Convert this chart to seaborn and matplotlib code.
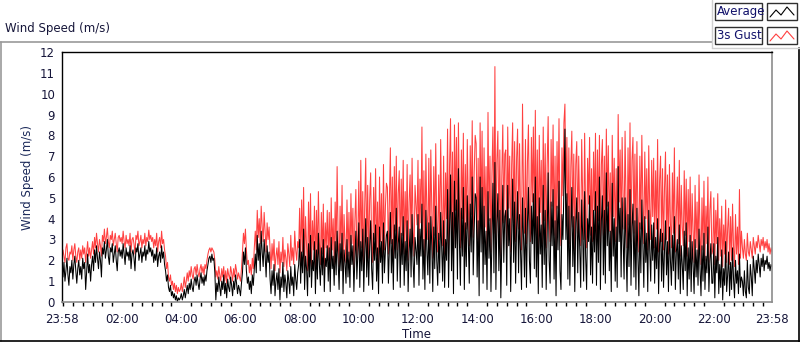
import numpy as np
import pandas as pd
import matplotlib
matplotlib.use("Agg")
import matplotlib.pyplot as plt
import seaborn as sns
from matplotlib.lines import Line2D
from matplotlib.patches import Rectangle

# ---- data: 2-minute samples from 23:58 to 23:58 next day (one row = one hour) ----
avg = [
    1.6,1.2,1.9,1.0,1.5,2.1,1.3,0.8,1.7,1.4,2.0,1.1,1.8,2.2,1.5,0.9,1.6,2.0,1.3,1.7,1.1,2.1,1.6,1.9,0.6,1.5,2.3,1.4,1.8,1.0,
    1.8,2.2,1.5,2.5,1.9,2.7,2.1,1.6,2.4,2.0,1.2,2.6,2.3,2.9,2.1,2.5,3.0,2.2,1.8,2.6,2.4,2.8,1.9,2.3,2.7,2.0,1.5,2.4,2.6,2.2,
    2.5,2.1,2.8,2.3,1.8,2.6,2.2,2.4,2.0,2.7,1.6,2.3,2.5,2.1,1.5,2.6,2.4,2.8,2.0,2.3,2.6,1.9,2.4,2.2,2.7,2.0,2.5,2.3,2.9,2.4,
    2.6,2.2,2.5,1.9,2.3,2.0,2.6,1.7,2.2,2.4,1.9,2.7,2.1,2.4,1.8,1.5,1.0,1.3,0.7,0.5,0.8,0.3,0.5,0.2,0.4,0.1,0.3,0.0,0.2,0.1,
    0.2,0.4,0.1,0.3,0.6,0.2,0.5,0.8,0.4,0.9,0.6,1.1,0.7,0.5,1.0,1.2,0.8,1.3,0.9,0.6,1.1,1.4,0.9,1.2,0.8,1.3,1.0,1.5,1.8,2.1,
    2.2,1.9,2.3,2.0,2.1,1.4,0.1,0.9,0.5,1.2,0.7,0.3,1.0,0.6,1.3,0.4,0.9,0.2,1.1,0.7,0.5,1.2,0.8,0.3,1.0,0.6,1.3,0.9,0.4,0.8,
    0.6,0.3,0.9,1.4,2.4,1.8,2.6,1.5,0.9,1.2,0.6,1.0,0.4,1.3,0.8,1.6,2.3,1.4,3.2,2.0,2.8,1.5,3.4,2.4,1.7,3.0,2.2,1.2,2.7,1.9,
    2.4,1.1,0.4,1.5,0.8,1.8,0.3,1.0,1.4,0.6,1.6,0.1,1.2,0.7,1.9,0.5,1.3,0.9,0.2,1.5,1.0,0.4,1.7,0.8,1.2,0.3,1.8,1.1,0.6,1.4,
    1.8,3.0,0.9,2.4,1.4,3.5,0.6,2.2,1.6,0.3,2.8,1.2,3.2,0.7,2.0,1.5,2.9,0.4,2.5,1.1,3.3,1.8,0.8,2.6,1.3,3.0,0.5,2.1,1.7,2.7,
    1.0,2.6,0.5,3.1,1.6,2.2,0.8,2.9,1.3,3.4,2.0,0.6,2.8,1.5,3.3,0.4,2.5,1.9,0.9,3.0,1.2,2.4,0.7,3.2,1.8,2.7,0.5,2.1,3.4,1.1,
    2.3,3.8,0.7,2.9,1.5,3.5,0.5,2.4,4.0,1.2,3.1,0.8,2.7,3.9,1.6,0.6,3.3,2.0,3.7,1.0,2.6,0.4,3.6,1.9,2.9,0.9,3.8,1.4,2.5,3.2,
    3.4,0.9,2.6,4.3,1.4,3.0,0.6,3.7,2.1,4.5,1.0,2.8,3.6,0.7,3.3,1.8,4.1,0.8,2.9,1.5,3.9,0.5,2.4,3.5,1.2,4.2,2.0,0.7,3.1,2.5,
    1.8,4.2,0.8,3.5,2.2,4.7,1.1,3.0,0.6,4.4,2.5,1.3,3.8,0.9,4.1,2.7,0.5,3.6,1.6,4.6,2.0,0.8,3.3,1.4,4.3,2.6,1.0,3.9,0.7,3.0,
    2.0,5.4,0.7,3.6,6.1,1.5,4.3,0.4,5.8,2.6,4.9,1.1,6.4,2.9,0.8,4.5,2.2,5.5,0.6,3.8,1.7,5.1,3.0,0.9,4.7,2.4,6.0,1.3,3.5,5.2,
    5.0,1.2,3.9,0.3,6.0,2.4,5.5,0.9,4.6,1.8,3.4,0.6,5.3,2.1,4.0,0.5,3.2,5.7,1.4,6.7,0.6,3.8,5.2,1.5,4.4,0.2,3.0,5.6,1.9,4.1,
    4.4,0.8,5.6,2.7,4.0,0.5,3.3,5.9,1.9,4.8,0.9,3.6,5.3,1.4,4.2,2.3,0.6,5.0,3.1,1.2,4.5,0.7,3.8,5.5,2.0,0.9,4.6,2.8,5.2,1.6,
    6.0,1.2,4.1,0.4,5.0,2.3,3.7,0.7,5.6,1.8,4.4,0.6,3.2,6.2,2.0,0.9,4.8,2.7,5.4,1.1,3.9,0.3,4.6,2.5,5.8,1.5,0.6,4.2,3.0,5.5,
    8.3,3.0,5.2,1.1,4.6,0.8,3.5,5.5,1.7,4.1,0.5,3.8,5.0,1.4,4.3,2.6,0.7,4.9,3.2,1.0,5.3,2.2,0.6,4.0,2.9,5.1,1.3,3.6,0.9,4.4,
    2.4,5.3,0.8,4.6,1.9,6.0,0.6,3.9,5.1,1.3,4.4,0.9,6.2,2.7,4.8,1.5,3.4,0.5,5.7,2.2,4.0,1.0,3.6,0.7,6.5,2.9,4.5,1.2,5.0,3.1,
    1.1,5.0,2.6,0.5,4.2,1.7,5.4,0.8,3.6,4.7,1.2,3.9,0.6,4.5,2.2,0.3,3.8,1.4,4.9,2.8,0.7,4.1,1.9,3.3,0.5,4.4,2.5,1.0,3.7,2.0,
    3.8,0.9,3.1,1.6,4.0,0.4,2.8,3.5,1.0,3.3,0.7,2.5,3.9,1.3,2.9,0.5,3.6,2.0,0.8,3.2,1.5,4.1,0.6,2.4,3.0,1.1,3.7,0.4,2.7,1.8,
    0.6,3.4,1.5,3.8,0.3,2.6,1.1,3.2,0.5,2.9,1.8,0.4,3.0,1.2,2.5,0.8,3.5,1.6,0.3,2.7,1.0,3.3,0.6,2.2,1.4,3.6,0.5,2.0,2.8,0.9,
    0.9,2.8,0.2,2.2,1.4,3.1,0.4,1.8,0.7,2.5,0.1,1.6,0.8,2.9,0.5,1.3,2.4,0.3,1.9,0.6,2.6,1.1,0.2,2.0,0.9,1.5,0.4,2.3,0.7,1.2,
    1.0,0.3,1.5,0.5,0.2,2.0,0.7,0.4,1.8,1.2,0.3,2.2,1.6,0.9,2.0,1.4,2.3,1.8,1.2,2.1,1.7,2.3,1.5,2.0,1.8,2.2,1.6,1.9,1.5,1.8,
    1.7,
]
gust = [
    2.0,2.5,2.2,1.9,2.6,2.8,2.1,2.0,2.4,2.3,2.7,2.0,2.5,2.8,2.2,1.9,2.4,2.6,2.0,2.5,2.1,2.7,2.3,2.6,1.9,2.4,2.9,2.2,2.6,2.1,
    2.5,2.9,2.3,3.1,2.6,3.3,2.8,2.4,3.0,2.7,2.2,3.2,2.9,3.5,2.8,3.1,3.55,2.9,2.6,3.2,3.0,3.4,2.7,3.0,3.3,2.8,2.4,3.1,3.2,2.9,
    3.1,2.8,3.4,2.9,2.6,3.2,2.8,3.0,2.7,3.3,2.4,3.0,3.1,2.8,2.3,3.2,3.0,3.4,2.7,2.9,3.2,2.6,3.0,2.8,3.3,2.7,3.1,2.9,3.45,3.0,
    3.2,2.9,3.1,2.6,3.0,2.7,3.3,2.4,2.9,3.1,2.6,3.4,2.8,3.0,2.5,2.2,1.6,1.9,1.2,1.0,1.3,0.8,1.0,0.6,0.9,0.5,0.8,0.4,0.7,0.5,
    0.6,0.9,0.5,0.8,1.2,0.7,1.0,1.4,1.0,1.5,1.2,1.7,1.3,1.1,1.6,1.7,1.3,1.8,1.4,1.2,1.6,1.8,1.4,1.7,1.3,1.8,1.6,2.0,2.3,2.5,
    2.6,2.4,2.6,2.5,2.4,2.0,1.2,1.5,1.1,1.7,1.3,1.0,1.6,1.2,1.7,1.0,1.5,0.9,1.6,1.3,1.1,1.7,1.4,1.0,1.6,1.2,1.8,1.5,1.1,1.4,
    1.2,1.0,1.6,2.4,3.3,2.8,3.5,2.5,1.8,2.0,1.4,1.8,1.3,2.1,1.6,2.6,3.4,2.5,4.4,3.1,4.0,2.8,4.6,3.6,2.9,4.3,3.3,2.4,3.8,3.0,
    3.6,2.5,1.6,2.8,2.0,3.0,1.5,2.2,2.6,1.8,2.9,1.4,2.4,1.9,3.1,1.7,2.5,2.1,1.5,2.8,2.3,1.7,3.2,2.0,2.6,1.8,3.4,2.5,2.0,2.9,
    2.6,4.5,1.8,4.9,2.4,5.5,1.6,4.1,2.7,1.5,4.8,2.2,5.2,1.7,3.9,2.5,4.6,1.5,4.4,2.1,5.3,2.9,1.8,4.3,2.3,4.7,1.6,3.8,2.6,4.4,
    2.0,4.3,1.6,5.0,2.5,4.0,1.8,4.8,2.4,6.5,3.0,1.7,4.6,2.5,5.6,1.5,4.2,2.8,1.9,4.9,2.2,4.3,1.7,5.2,2.8,4.5,1.6,3.9,5.4,2.1,
    3.2,5.8,2.0,6.8,2.6,5.3,1.8,4.7,6.9,2.4,5.6,2.1,4.9,6.2,2.7,1.9,5.5,3.0,6.4,2.2,4.8,1.7,6.0,2.9,5.2,2.0,6.6,2.5,4.6,5.7,
    5.5,2.3,5.0,7.4,2.8,6.0,2.1,6.5,3.4,7.0,2.5,5.2,6.3,2.2,5.9,3.2,6.8,2.3,5.3,2.9,6.6,2.0,4.8,6.1,2.6,6.9,3.5,2.2,5.6,4.7,
    3.7,6.8,2.4,5.9,3.8,8.4,2.6,6.3,2.2,7.1,4.2,3.0,6.9,2.5,7.3,4.4,2.1,6.5,3.2,7.6,3.9,2.4,6.1,3.0,7.8,4.5,2.7,7.0,2.3,6.2,
    4.0,8.3,2.3,6.5,8.8,3.2,7.2,2.1,8.5,4.4,7.9,2.8,8.6,4.9,2.6,7.3,4.0,8.1,2.4,6.6,3.5,7.8,4.8,2.7,7.5,4.2,8.7,3.1,6.2,8.0,
    7.6,3.0,6.9,2.3,8.6,4.1,8.2,2.8,7.4,3.6,6.5,2.5,9.1,3.9,7.0,2.4,6.2,8.4,3.3,11.3,2.6,6.8,8.2,3.3,7.3,2.2,6.0,8.5,3.8,7.1,
    7.3,2.6,8.4,4.5,7.0,2.4,6.6,8.6,3.8,7.7,2.9,6.9,8.3,3.5,7.6,4.3,2.5,9.5,5.2,3.3,7.8,2.8,6.7,8.5,4.0,2.9,7.9,4.8,8.4,3.6,
    9.2,3.2,7.3,2.5,8.0,4.3,6.8,2.8,8.4,3.9,7.6,2.6,6.5,8.9,4.0,2.9,7.8,4.6,8.5,3.2,7.0,2.4,7.7,4.5,8.8,3.6,2.7,7.4,5.1,8.6,
    9.5,5.0,7.9,3.2,7.4,2.8,6.5,8.2,3.6,7.1,2.5,6.6,7.7,3.3,7.0,4.4,2.7,7.8,5.0,3.0,8.1,4.2,2.6,6.9,4.7,7.9,3.2,6.4,2.9,7.2,
    4.4,8.1,2.7,7.3,3.9,8.0,2.5,6.6,7.8,3.2,7.0,3.0,8.3,4.6,7.5,3.4,6.2,2.4,8.0,4.1,6.9,2.9,6.4,2.6,9.0,4.8,7.3,3.1,7.9,5.0,
    3.5,8.2,4.6,2.6,7.4,3.7,8.6,2.9,6.8,7.9,3.3,7.1,2.7,7.7,4.3,2.4,7.0,3.5,8.0,4.9,2.8,7.2,4.0,6.4,2.5,7.5,4.5,3.0,6.8,4.1,
    6.9,2.6,6.3,3.5,7.8,2.4,5.8,7.0,2.9,6.4,2.5,5.5,7.2,3.0,6.1,2.3,6.6,3.8,2.6,6.2,3.3,7.4,2.4,4.3,6.0,2.8,6.8,2.2,5.6,3.6,
    2.7,6.3,3.2,5.9,2.2,5.4,2.9,6.0,2.0,5.2,3.4,1.9,5.6,2.6,4.8,2.1,6.1,3.3,1.8,5.0,2.5,5.8,2.0,4.6,2.8,6.0,1.9,4.4,5.3,2.3,
    2.5,5.0,1.8,4.4,2.8,5.2,2.0,4.0,2.2,4.6,1.7,3.7,2.3,4.9,1.9,3.5,4.5,1.8,4.1,2.0,4.7,2.6,1.7,4.2,2.3,3.6,1.8,5.4,2.1,3.4,
    2.6,2.1,3.0,2.3,2.0,3.3,2.4,2.2,2.9,2.5,2.1,3.1,2.7,2.3,2.9,2.6,3.2,2.8,2.4,3.0,2.7,3.1,2.5,2.9,2.6,3.0,2.4,2.8,2.3,2.6,
    2.4,
]
step_minutes = 2
tick_minutes = [0, 122, 242, 362, 482, 602, 722, 842, 962, 1082, 1202, 1322, 1440]
tick_labels = ["23:58", "02:00", "04:00", "06:00", "08:00", "10:00", "12:00",
               "14:00", "16:00", "18:00", "20:00", "22:00", "23:58"]
y_ticks = list(range(0, 13))

df_avg = pd.DataFrame({"t": np.arange(len(avg)) * step_minutes, "v": avg})
df_gust = pd.DataFrame({"t": np.arange(len(gust)) * step_minutes, "v": gust})

sns.set_style("white")
plt.rcParams["font.family"] = ["DejaVu Sans"]

W, H = 800, 342
fig = plt.figure(figsize=(W / 100, H / 100), dpi=100)
fig.patch.set_facecolor("white")

def fx(px):
    return px / W

def fy(py):
    return 1 - py / H

ax = fig.add_axes([fx(62), fy(302), fx(772) - fx(62), fy(52) - fy(302)])
sns.lineplot(data=df_gust, x="t", y="v", ax=ax, color="#ff4040", lw=0.75,
             estimator=None, sort=False)
sns.lineplot(data=df_avg, x="t", y="v", ax=ax, color="black", lw=0.75,
             estimator=None, sort=False)

ax.set_xlim(0, 1440)
ax.set_ylim(0, 12)
ax.set_yticks(y_ticks)
ax.set_xticks(tick_minutes)
ax.set_xticklabels(tick_labels)
ax.set_xticks(np.arange(2, 1440, 20), minor=True)
txtc = "#16163a"
ax.tick_params(axis="both", which="major", labelsize=8.5, labelcolor=txtc,
               color="black", direction="out")
ax.tick_params(axis="y", length=4, width=1, pad=1)
ax.tick_params(axis="x", which="major", length=5, width=1.2, pad=3)
ax.tick_params(axis="x", which="minor", length=3, width=1, color="black",
               bottom=True)
ax.set_xlabel("Time", fontsize=8.5, color=txtc, labelpad=1)
ax.set_ylabel("Wind Speed (m/s)", fontsize=8.5, color="#1c2a5a", labelpad=4)
for s in ["left", "top"]:
    ax.spines[s].set_color("black")
    ax.spines[s].set_linewidth(1.0)
for s in ["right", "bottom"]:
    ax.spines[s].set_color("#8c8c8c")
    ax.spines[s].set_linewidth(1.2)
ax.grid(False)

# ---- panel decorations ----
fig.text(fx(5), fy(32), "Wind Speed (m/s)", fontsize=8.5, color=txtc,
         ha="left", va="baseline")
fig.add_artist(Line2D([fx(0), fx(712)], [fy(42), fy(42)], color="#9a9a9a", lw=1.2))
fig.add_artist(Line2D([fx(0.6), fx(0.6)], [fy(42), fy(341)], color="#9a9a9a", lw=1.2))
fig.add_artist(Line2D([fx(0), fx(800)], [fy(340.8), fy(340.8)], color="black", lw=1.2))
fig.add_artist(Line2D([fx(798.6), fx(798.6)], [fy(48), fy(342)], color="black", lw=1.2))
fig.add_artist(Line2D([fx(712), fx(712)], [fy(0), fy(48)], color="#d0d0d0", lw=1))
fig.add_artist(Line2D([fx(712), fx(799)], [fy(48), fy(48)], color="#d0d0d0", lw=1))

# legend
for (y0, name, col) in [(3, "Average", "black"), (27, "3s Gust", "#ff4040")]:
    fig.add_artist(Rectangle((fx(715), fy(y0 + 17)), fx(762) - fx(715),
                             fy(y0) - fy(y0 + 17), fill=False,
                             ec="#303030", lw=1))
    fig.text(fx(717), fy(y0 + 8.5), name, fontsize=8.5, color="#10106a",
             ha="left", va="center")
    fig.add_artist(Rectangle((fx(767), fy(y0 + 17)), fx(797) - fx(767),
                             fy(y0) - fy(y0 + 17), fill=False,
                             ec="#303030", lw=1))
    xs = [770, 776, 781, 787, 794]
    ys = [y0 + 14, y0 + 7, y0 + 12, y0 + 4, y0 + 12]
    fig.add_artist(Line2D([fx(v) for v in xs], [fy(v) for v in ys],
                          color=col, lw=0.8))

fig.savefig("out.png", dpi=100, facecolor="white")
